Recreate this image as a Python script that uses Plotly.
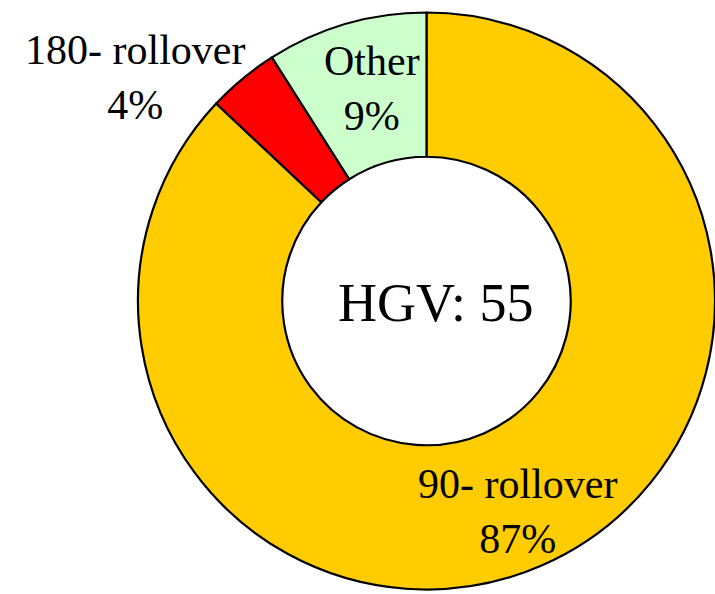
import plotly.graph_objects as go

# Data
categories = ["90- rollover", "180- rollover", "Other"]
shares = [87, 4, 9]
colors = ["#FFCC00", "#FF0000", "#CCFFCC"]
center_label = "HGV"
center_value = 55

W, H = 715, 594

fig = go.Figure(go.Pie(
    labels=categories,
    values=shares,
    hole=0.5,
    sort=False,
    direction="clockwise",
    rotation=0,
    marker=dict(colors=colors, line=dict(color="black", width=2.2)),
    textinfo="none",
    hoverinfo="label+percent",
    showlegend=False,
    domain=dict(x=[138 / W, 1.0], y=[1 - 592 / H, 1 - 10 / H]),
))

FONT = "Liberation Serif, Times New Roman, serif"
# label anchor points in pixels (centre of the text block)
label_pos = {"90- rollover": (517, 511), "180- rollover": (135, 77), "Other": (372, 88)}

annotations = []
for cat, val in zip(categories, shares):
    px, py = label_pos[cat]
    annotations.append(dict(
        x=px / W, y=1 - py / H, xref="paper", yref="paper",
        text=f"{cat}<br>{val}%", showarrow=False,
        font=dict(family=FONT, size=42, color="black"),
        xanchor="center", yanchor="middle", align="center",
    ))
annotations.append(dict(
    x=436 / W, y=1 - 303 / H, xref="paper", yref="paper",
    text=f"{center_label}: {center_value}", showarrow=False,
    font=dict(family=FONT, size=54, color="black"),
    xanchor="center", yanchor="middle",
))

fig.update_layout(
    width=W, height=H,
    margin=dict(l=0, r=0, t=0, b=0),
    paper_bgcolor="white", plot_bgcolor="white",
    annotations=annotations,
)

fig.write_html(
    "out.html",
    config={"displayModeBar": False},
    post_script="document.body.style.margin='0';document.body.style.overflow='hidden';",
)
